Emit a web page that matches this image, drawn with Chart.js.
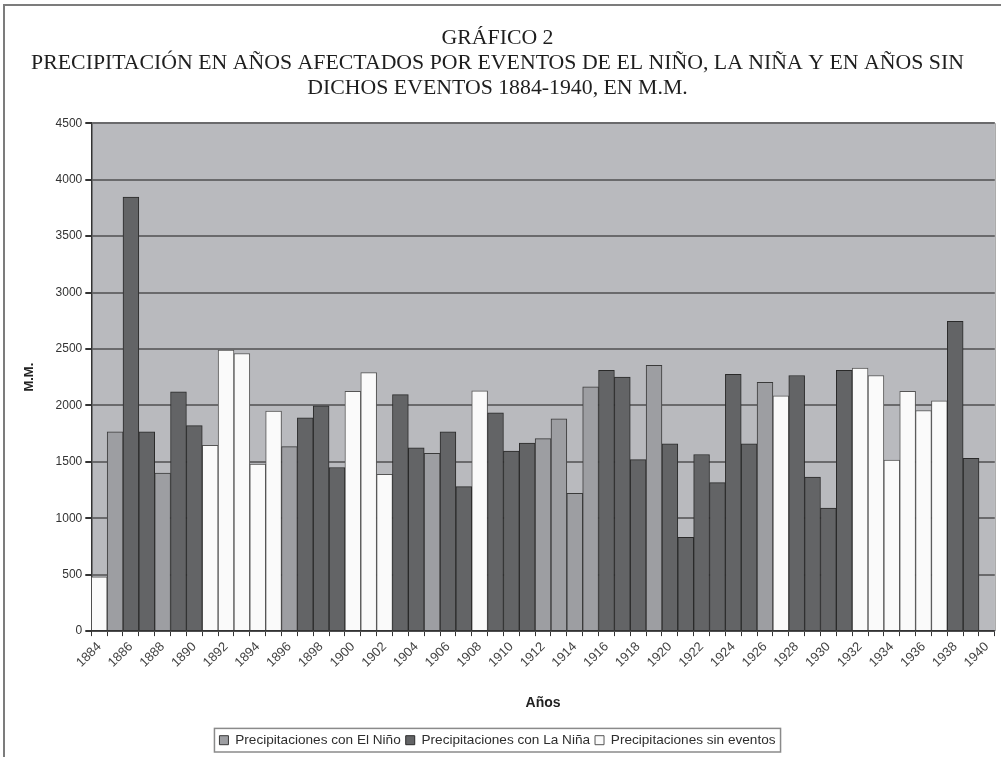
<!DOCTYPE html>
<html>
<head>
<meta charset="utf-8">
<script src="https://cdn.jsdelivr.net/npm/chart.js@4/dist/chart.umd.min.js"></script>
<style>
  html, body { margin: 0; padding: 0; background: #fff; }
  #wrap { position: relative; width: 1001px; height: 757px; }
</style>
</head>
<body>
<div id="wrap"><canvas id="c" width="1001" height="757"></canvas></div>
<script>
// Years 1884-1940
const years = ["1884","1885","1886","1887","1888","1889","1890","1891","1892","1893",
  "1894","1895","1896","1897","1898","1899","1900","1901","1902","1903",
  "1904","1905","1906","1907","1908","1909","1910","1911","1912","1913",
  "1914","1915","1916","1917","1918","1919","1920","1921","1922","1923",
  "1924","1925","1926","1927","1928","1929","1930","1931","1932","1933",
  "1934","1935","1936","1937","1938","1939","1940"];

// Precipitaciones con El Niño (mm)
const elNino = [null,1765,null,null,1400,null,null,null,null,null,
  null,null,1635,null,null,null,null,null,null,null,
  null,1575,null,null,null,null,null,null,1705,1880,
  1220,2165,null,null,null,2355,null,null,null,null,
  null,null,2205,null,null,null,null,null,null,null,
  null,null,null,null,null,null,null];

// Precipitaciones con La Niña (mm)
const laNina = [null,null,3845,1765,null,2120,1820,null,null,null,
  null,null,null,1890,1995,1450,null,null,null,2095,
  1625,null,1765,1280,null,1935,1595,1665,null,null,
  null,null,2310,2250,1520,null,1660,830,1565,1315,
  2275,1660,null,null,2265,1365,1090,2310,null,null,
  null,null,null,null,2745,1530,null];

// Precipitaciones sin eventos (mm)
const sinEventos = [480,null,null,null,null,null,null,1645,2490,2460,
  1480,1950,null,null,null,null,2125,2290,1390,null,
  null,null,null,null,2130,null,null,null,null,null,
  null,null,null,null,null,null,null,null,null,null,
  null,null,null,2085,null,null,null,null,2330,2265,
  1515,2125,1955,2040,null,null,null];

const yTicks = [0,500,1000,1500,2000,2500,3000,3500,4000,4500];

const titleLines = ["GRÁFICO 2",
  "PRECIPITACIÓN EN AÑOS AFECTADOS POR EVENTOS DE EL NIÑO, LA NIÑA Y EN AÑOS SIN",
  "DICHOS EVENTOS 1884-1940, EN M.M."];

const bgPlugin = {
  id: 'bg',
  beforeDraw(chart) {
    const {ctx, chartArea: a} = chart;
    ctx.save();
    ctx.fillStyle = '#b9babe';
    ctx.fillRect(a.left, a.top, a.right - a.left, a.bottom - a.top);
    ctx.restore();
  },
  afterDraw(chart) {
    const ctx = chart.ctx;
    ctx.save();
    // outer frame (left and top)
    ctx.fillStyle = '#7c7c7c';
    ctx.fillRect(3, 4, 2, 753);
    ctx.fillRect(3, 4, 998, 2);
    // right edge of plot area
    const a = chart.chartArea;
    ctx.strokeStyle = '#9a9a9a';
    ctx.lineWidth = 1;
    ctx.beginPath();
    ctx.moveTo(a.right + 0.5, a.top);
    ctx.lineTo(a.right + 0.5, a.bottom);
    ctx.stroke();
    // legend box border
    const lg = chart.legend;
    if (lg && lg.legendHitBoxes && lg.legendHitBoxes.length) {
      let l = Infinity, r = -Infinity, t = Infinity, b = -Infinity;
      lg.legendHitBoxes.forEach(h => {
        l = Math.min(l, h.left); r = Math.max(r, h.left + h.width);
        t = Math.min(t, h.top); b = Math.max(b, h.top + h.height);
      });
      ctx.strokeStyle = '#8a8a8a';
      ctx.lineWidth = 1.5;
      ctx.strokeRect(l - 5, t - 5, (r - l) + 10, (b - t) + 10);
    }
    ctx.restore();
  }
};

new Chart(document.getElementById('c'), {
  type: 'bar',
  data: {
    labels: years,
    datasets: [
      { label: 'Precipitaciones con El Niño', data: elNino,
        backgroundColor: '#9d9ea2', borderColor: '#3a3a3a', borderWidth: 1,
        barPercentage: 1, categoryPercentage: 1 },
      { label: 'Precipitaciones con La Niña', data: laNina,
        backgroundColor: '#636466', borderColor: '#2a2a2a', borderWidth: 1,
        barPercentage: 1, categoryPercentage: 1 },
      { label: 'Precipitaciones sin eventos', data: sinEventos,
        backgroundColor: '#fafafa', borderColor: '#555555', borderWidth: 1,
        barPercentage: 1, categoryPercentage: 1 }
    ]
  },
  options: {
    responsive: false,
    animation: false,
    devicePixelRatio: 1,
    layout: { padding: { left: 0, right: 6, top: 18, bottom: 0 } },
    plugins: {
      title: {
        display: true,
        text: titleLines,
        font: { family: '"Liberation Serif", "Times New Roman", serif', size: 21.8, weight: 'normal', lineHeight: 1.15 },
        color: '#1e1e1e',
        padding: { top: 8, bottom: 22 }
      },
      legend: {
        position: 'bottom',
        labels: {
          boxWidth: 9, boxHeight: 9,
          padding: 5,
          color: '#2e2e2e',
          font: { family: '"Liberation Sans", Arial, sans-serif', size: 13.6 }
        }
      },
      tooltip: { enabled: false }
    },
    scales: {
      x: {
        stacked: true,
        offset: true,
        grid: { display: true, offset: true, drawOnChartArea: false, color: '#333', tickLength: 5, lineWidth: 1 },
        border: { color: '#333', width: 1.5 },
        ticks: {
          autoSkip: false, maxRotation: 45, minRotation: 45,
          color: '#444',
          font: { family: '"Liberation Sans", Arial, sans-serif', size: 13 },
          callback: function(v, i) { return i % 2 === 0 ? years[i] : ''; }
        },
        title: {
          display: true, text: 'Años', color: '#222',
          font: { family: '"Liberation Sans", Arial, sans-serif', size: 14, weight: 'bold' },
          padding: { top: 21, bottom: 17 }
        }
      },
      y: {
        stacked: true,
        min: 0, max: 4500,
        afterBuildTicks: (s) => { s.ticks = yTicks.map(v => ({ value: v })); },
        grid: { color: '#6a6a6c', lineWidth: 2, tickLength: 6, tickColor: '#333' },
        border: { color: '#333', width: 1.5 },
        ticks: {
          color: '#333', padding: 3,
          font: { family: '"Liberation Sans", Arial, sans-serif', size: 12 },
          callback: (v) => String(v)
        },
        title: {
          display: true, text: 'M.M.', color: '#222',
          font: { family: '"Liberation Sans", Arial, sans-serif', size: 13, weight: 'bold' },
          padding: { top: 22, bottom: 15 }
        }
      }
    }
  },
  plugins: [bgPlugin]
});
</script>
</body>
</html>
